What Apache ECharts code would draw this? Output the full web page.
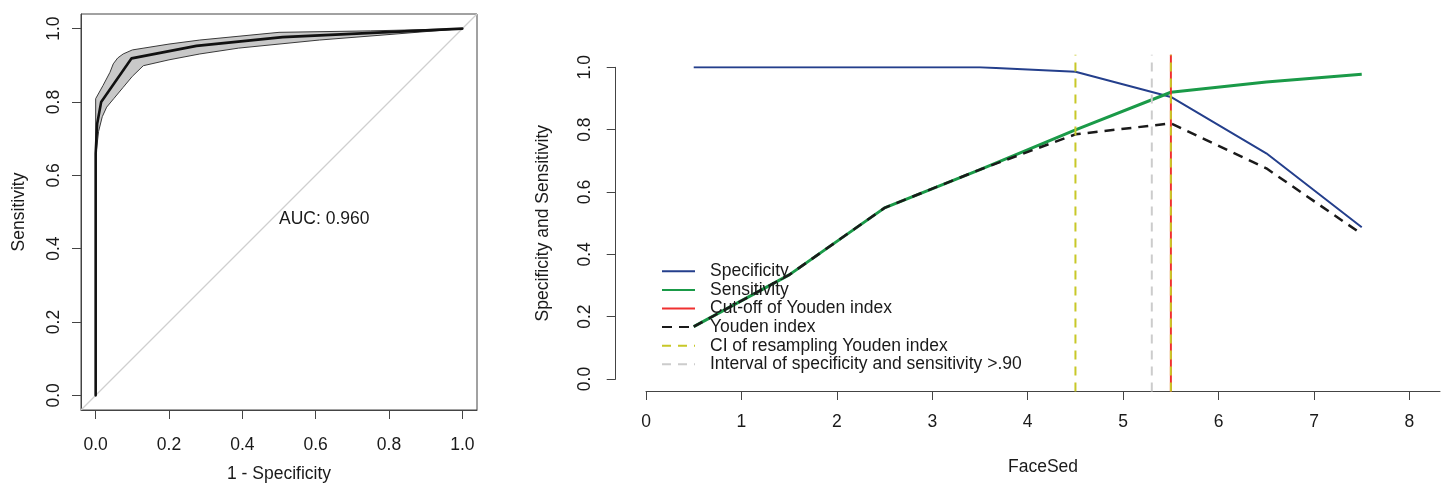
<!DOCTYPE html>
<html>
<head>
<meta charset="utf-8">
<script src="https://cdn.jsdelivr.net/npm/echarts@6/dist/echarts.min.js"></script>
<style>
html,body{margin:0;padding:0;background:#fff;}
#chart{width:1445px;height:483px;}
</style>
</head>
<body>
<div id="chart"></div>
<script>
// ---------- Left panel: ROC curve ----------
const rocFpr = [0, 0, 0, 0, 0, 0.004, 0.015, 0.098, 0.275, 0.51, 1];
const rocTpr = [0, 0.168, 0.334, 0.549, 0.66, 0.74, 0.80, 0.919, 0.953, 0.977, 1];
const bandUpperX = [0, 0, 0.02, 0.039, 0.048, 0.06, 0.075, 0.1, 0.2, 0.284, 0.5, 0.75, 1];
const bandUpperY = [0, 0.809, 0.845, 0.881, 0.904, 0.92, 0.931, 0.942, 0.958, 0.969, 0.99, 0.994, 1];
const bandLowerX = [0, 0, 0.008, 0.018, 0.03, 0.05, 0.075, 0.1, 0.13, 0.2, 0.284, 0.39, 0.5, 0.61, 0.8, 1];
const bandLowerY = [0, 0.65, 0.72, 0.76, 0.786, 0.81, 0.84, 0.87, 0.899, 0.915, 0.931, 0.947, 0.958, 0.969, 0.984, 1];
const rocTicks = [0, 0.2, 0.4, 0.6, 0.8, 1.0];
const aucText = 'AUC: 0.960';
const aucPos = [0.5, 0.48];
const diagX = [-0.04, 1.04];

// ---------- Right panel: specificity / sensitivity vs FaceSed ----------
const thresholds = [0.5, 1.5, 2.5, 3.5, 4.5, 5.5, 6.5, 7.5];
const specificity = [1.0, 1.0, 1.0, 1.0, 0.986, 0.905, 0.724, 0.487];
const sensitivity = [0.168, 0.334, 0.549, 0.672, 0.799, 0.92, 0.953, 0.978];
const youden = [0.168, 0.334, 0.549, 0.672, 0.785, 0.82, 0.676, 0.465];
const youdenCutoff = 5.5;
const ciYouden = [4.5, 5.5];
const intervalSpecSens = 5.3;
const xTicks = [0, 1, 2, 3, 4, 5, 6, 7, 8];
const yTicks = [0, 0.2, 0.4, 0.6, 0.8, 1.0];
const yUsr = [-0.04, 1.04];

const FONT = '"Liberation Sans", Arial, Helvetica, sans-serif';
const TXT = '#1a1a1a';
const FS = 17.5;

function zip(xs, ys) { return xs.map((x, i) => [x, ys[i]]); }
function vline(x) { return [[x, yUsr[0]], [x, yUsr[1]]]; }

const chart = echarts.init(document.getElementById('chart'), null, {renderer: 'canvas'});

const axisCommon = {
  axisLine: {show: true, onZero: false, lineStyle: {color: '#444', width: 1}},
  axisTick: {show: true, inside: false, length: 9, lineStyle: {color: '#444', width: 1}},
  splitLine: {show: false},
  nameLocation: 'middle',
  nameTextStyle: {color: TXT, fontSize: FS, fontFamily: FONT},
};

const option = {
  animation: false,
  backgroundColor: '#fff',
  textStyle: {fontFamily: FONT},
  grid: [
    {left: 81, top: 14, width: 396, height: 396, show: true, borderColor: '#444', borderWidth: 1, containLabel: false, outerBoundsMode: 'none'},
    {left: 646, top: 67.3, width: 794, height: 311.7, show: false, containLabel: false, outerBoundsMode: 'none'}
  ],
  xAxis: [
    Object.assign({}, axisCommon, {
      gridIndex: 0, type: 'value', min: -0.04, max: 1.04,
      name: '1 - Specificity', nameGap: 55,
      axisTick: Object.assign({}, axisCommon.axisTick, {customValues: rocTicks}),
      axisLabel: {customValues: rocTicks, formatter: v => v.toFixed(1), margin: 26, color: TXT, fontSize: FS, fontFamily: FONT}
    }),
    Object.assign({}, axisCommon, {
      gridIndex: 1, type: 'value', min: 0, max: 8.32, offset: 12,
      name: 'FaceSed', nameGap: 67,
      axisTick: Object.assign({}, axisCommon.axisTick, {customValues: xTicks}),
      axisLabel: {customValues: xTicks, formatter: v => String(v), margin: 22, color: TXT, fontSize: FS, fontFamily: FONT}
    })
  ],
  yAxis: [
    Object.assign({}, axisCommon, {
      gridIndex: 0, type: 'value', min: -0.04, max: 1.04,
      name: 'Sensitivity', nameGap: 53,
      axisTick: Object.assign({}, axisCommon.axisTick, {customValues: rocTicks}),
      axisLabel: {customValues: rocTicks, formatter: v => v.toFixed(1), rotate: 90, margin: 18, color: TXT, fontSize: FS, fontFamily: FONT}
    }),
    Object.assign({}, axisCommon, {
      gridIndex: 1, type: 'value', min: 0, max: 1, offset: 30.3,
      name: 'Specificity and Sensitivity', nameGap: 64,
      axisTick: Object.assign({}, axisCommon.axisTick, {customValues: yTicks}),
      axisLabel: {customValues: yTicks, formatter: v => v.toFixed(1), rotate: 90, margin: 22, color: TXT, fontSize: FS, fontFamily: FONT}
    })
  ],
  legend: {
    orient: 'vertical', left: 656, top: 257,
    itemWidth: 33, itemHeight: 14, itemGap: 0,
    itemStyle: {opacity: 0},
    textStyle: {color: TXT, fontSize: FS, fontFamily: FONT, lineHeight: 18.6, padding: [0, 0, 0, 10]},
    data: [
      {name: 'Specificity'},
      {name: 'Sensitivity'},
      {name: 'Cut-off of Youden index'},
      {name: 'Youden index'},
      {name: 'CI of resampling Youden index'},
      {name: 'Interval of specificity and sensitivity >.90'}
    ],
    selectedMode: false
  },
  series: [
    // ROC band
    {
      type: 'custom', xAxisIndex: 0, yAxisIndex: 0, data: [[0, 0]], silent: true,
      renderItem: function (params, api) {
        const up = zip(bandUpperX, bandUpperY).map(p => api.coord(p));
        const lo = zip(bandLowerX, bandLowerY).map(p => api.coord(p)).reverse();
        return {
          type: 'polygon',
          shape: {points: up.concat(lo)},
          style: {fill: '#c8c8c8', stroke: '#3a3a3a', lineWidth: 1}
        };
      }
    },
    {
      type: 'line', xAxisIndex: 0, yAxisIndex: 0, data: zip(diagX, diagX), symbol: 'none', silent: true,
      lineStyle: {color: '#cfcfcf', width: 1.2}, clip: true
    },
    {
      type: 'line', xAxisIndex: 0, yAxisIndex: 0, data: zip(rocFpr, rocTpr), symbol: 'none', silent: true,
      lineStyle: {color: '#111', width: 2.6, join: 'round', cap: 'round'}
    },
    {
      type: 'custom', xAxisIndex: 0, yAxisIndex: 0, data: [aucPos], silent: true,
      renderItem: function (params, api) {
        const p = api.coord([api.value(0), api.value(1)]);
        return {
          type: 'text',
          x: p[0], y: p[1],
          style: {text: aucText, fill: TXT, font: FS + 'px ' + FONT, textAlign: 'left', textVerticalAlign: 'middle'}
        };
      }
    },
    // Right panel
    {
      name: 'Specificity', type: 'line', xAxisIndex: 1, yAxisIndex: 1, data: zip(thresholds, specificity),
      symbol: 'none', lineStyle: {color: '#243f8c', width: 2}
    },
    {
      name: 'Sensitivity', type: 'line', xAxisIndex: 1, yAxisIndex: 1, data: zip(thresholds, sensitivity),
      symbol: 'none', lineStyle: {color: '#1a9a48', width: 3}
    },
    {
      name: 'Youden index', type: 'line', xAxisIndex: 1, yAxisIndex: 1, data: zip(thresholds, youden),
      symbol: 'none', lineStyle: {color: '#1a1a1a', width: 2.5, type: [10, 7]}
    },
    {
      name: 'Cut-off of Youden index', type: 'line', xAxisIndex: 1, yAxisIndex: 1, data: vline(youdenCutoff),
      symbol: 'none', clip: false, lineStyle: {color: '#f03030', width: 2}
    },
    {
      name: 'CI of resampling Youden index', type: 'line', xAxisIndex: 1, yAxisIndex: 1, data: vline(ciYouden[0]),
      symbol: 'none', clip: false, lineStyle: {color: '#c8c828', width: 2, type: [9, 7]}
    },
    {
      name: 'CI of resampling Youden index', type: 'line', xAxisIndex: 1, yAxisIndex: 1, data: vline(ciYouden[1]),
      symbol: 'none', clip: false, lineStyle: {color: '#c8c828', width: 2, type: [9, 7]}
    },
    {
      name: 'Interval of specificity and sensitivity >.90', type: 'line', xAxisIndex: 1, yAxisIndex: 1, data: vline(intervalSpecSens),
      symbol: 'none', clip: false, lineStyle: {color: '#cccccc', width: 2, type: [9, 7]}
    }
  ]
};
chart.setOption(option);
</script>
</body>
</html>
